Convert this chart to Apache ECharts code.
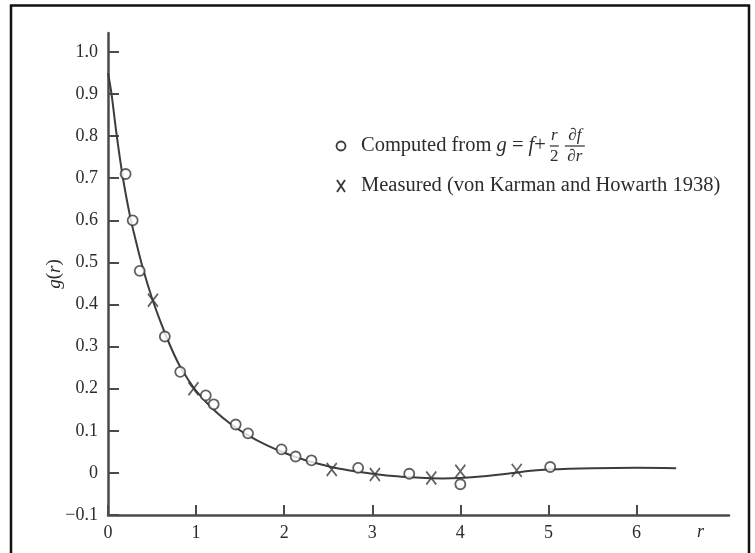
<!DOCTYPE html>
<html>
<head>
<meta charset="utf-8">
<title>g(r)</title>
<script src="https://cdn.jsdelivr.net/npm/echarts@6/dist/echarts.min.js"></script>
<style>
  html, body { margin: 0; padding: 0; background: #ffffff; }
  #chart { width: 755px; height: 553px; }
</style>
</head>
<body>
<div id="chart"></div>
<script>
// Smooth curve g(r)
const curveR = [0, 0.04, 0.1, 0.17, 0.25, 0.3, 0.4, 0.5, 0.6, 0.7, 0.8, 0.9, 1.0, 1.2, 1.4, 1.6, 1.8, 2.0, 2.2, 2.4, 2.6, 2.8, 3.0, 3.2, 3.4, 3.6, 3.8, 4.0, 4.2, 4.4, 4.6, 4.8, 5.0, 5.5, 6.0, 6.45];
const curveG = [0.95, 0.9, 0.8, 0.7, 0.61, 0.565, 0.483, 0.415, 0.357, 0.305, 0.26, 0.225, 0.195, 0.15, 0.115, 0.088, 0.066, 0.048, 0.033, 0.021, 0.011, 0.004, -0.002, -0.007, -0.010, -0.012, -0.013, -0.012, -0.009, -0.005, 0.000, 0.005, 0.008, 0.011, 0.012, 0.011];

// Computed from g = f + (r/2) df/dr
const computedR = [0.20, 0.28, 0.36, 0.645, 0.82, 1.11, 1.20, 1.45, 1.59, 1.97, 2.13, 2.31, 2.84, 3.42, 4.00, 5.02];
const computedG = [0.71, 0.60, 0.48, 0.324, 0.24, 0.184, 0.163, 0.115, 0.094, 0.056, 0.039, 0.030, 0.012, -0.002, -0.027, 0.014];

// Measured (von Karman and Howarth 1938)
const measuredR = [0.51, 0.97, 2.54, 3.03, 3.67, 4.00, 4.64];
const measuredG = [0.41, 0.20, 0.008, -0.004, -0.012, 0.004, 0.006];

// Axis ticks
const xTickValues = [0, 1, 2, 3, 4, 5, 6];
const xTickLabels = ['0', '1', '2', '3', '4', '5', '6'];
const yTickValues = [-0.1, 0, 0.1, 0.2, 0.3, 0.4, 0.5, 0.6, 0.7, 0.8, 0.9, 1.0];
const yTickLabels = ['\u22120.1', '0', '0.1', '0.2', '0.3', '0.4', '0.5', '0.6', '0.7', '0.8', '0.9', '1.0'];

const legendComputed = 'Computed from ';
const legendMeasured = 'Measured (von Karman and Howarth 1938)';

const INK = '#2c2c2c';
const AXIS = '#4a4a4a';
const SERIF = '"Liberation Serif", "Times New Roman", serif';

function pairs(xs, ys) { return xs.map((x, i) => [x, ys[i]]); }
function labelFor(values, labels) {
  return v => {
    const i = values.findIndex(t => Math.abs(t - v) < 1e-9);
    return i < 0 ? '' : labels[i];
  };
}

// measure legend text to place the fraction terms after it
const ctx = document.createElement('canvas').getContext('2d');
function textWidth(str, font) { ctx.font = font; return ctx.measureText(str).width; }

const legFont = 20.5;
const fracFont = 17;
const row1 = 146, row2 = 186, legX = 361;
const w1 = textWidth(legendComputed, `${legFont}px ${SERIF}`);
const wg = textWidth('g', `italic ${legFont}px ${SERIF}`);
const weq = textWidth(' = ', `${legFont}px ${SERIF}`);
const wf = textWidth('f', `italic ${legFont}px ${SERIF}`);
const wplus = textWidth('+', `${legFont}px ${SERIF}`);
const fr1 = legX + w1 + wg + weq + wf + wplus + 4;
const fr2 = fr1 + 15;

const chart = echarts.init(document.getElementById('chart'), null, { renderer: 'canvas' });

chart.setOption({
  animation: false,
  backgroundColor: '#ffffff',
  grid: { left: 108, right: 26, top: 33, bottom: 38, containLabel: false },
  xAxis: {
    type: 'value',
    min: 0,
    max: 7.05,
    splitLine: { show: false },
    axisLine: { show: true, onZero: false, lineStyle: { color: AXIS, width: 2.5 } },
    axisTick: { show: true, inside: true, length: 10, customValues: xTickValues, lineStyle: { color: AXIS, width: 2 } },
    axisLabel: {
      customValues: xTickValues,
      formatter: labelFor(xTickValues, xTickLabels),
      margin: 9, color: INK, fontFamily: SERIF, fontSize: 18
    }
  },
  yAxis: {
    type: 'value',
    min: -0.1,
    max: 1.045,
    name: '{i|g}(' + '{i|r})',
    nameLocation: 'middle',
    nameRotate: 90,
    nameGap: 44,
    nameMoveOverlap: false,
    nameTextStyle: {
      color: INK, fontFamily: SERIF, fontSize: 19,
      rich: { i: { fontStyle: 'italic', fontFamily: SERIF, fontSize: 19, color: INK } }
    },
    splitLine: { show: false },
    axisLine: { show: true, onZero: false, lineStyle: { color: AXIS, width: 2.5 } },
    axisTick: { show: true, inside: true, length: 11, customValues: yTickValues, lineStyle: { color: AXIS, width: 2 } },
    axisLabel: {
      customValues: yTickValues,
      formatter: labelFor(yTickValues, yTickLabels),
      margin: 10, color: INK, fontFamily: SERIF, fontSize: 18
    }
  },
  series: [
    {
      name: 'g(r)',
      type: 'line',
      smooth: 0.35,
      showSymbol: false,
      data: pairs(curveR, curveG),
      lineStyle: { color: '#3c3c3c', width: 2 },
      z: 2
    },
    {
      name: 'Computed',
      type: 'scatter',
      symbol: 'circle',
      symbolSize: 10,
      data: pairs(computedR, computedG),
      itemStyle: { color: '#ffffff', borderColor: '#383838', borderWidth: 1.8 },
      z: 3
    },
    {
      name: 'Measured',
      type: 'scatter',
      symbol: 'path://M0,0L10,12M10,0L0,12',
      symbolSize: [10, 13],
      data: pairs(measuredR, measuredG),
      itemStyle: { color: 'rgba(0,0,0,0)', borderColor: '#383838', borderWidth: 1.8 },
      z: 3
    }
  ],
  graphic: [
    // page frame
    {
      type: 'polyline', silent: true,
      shape: { points: [[11, 560], [11, 5.5], [749, 5.5], [749, 560]] },
      style: { stroke: '#111', lineWidth: 2.5, fill: null }
    },
    // axis name r
    {
      type: 'text', left: 697, top: 523,
      style: { text: 'r', font: `italic 18px ${SERIF}`, fill: INK }
    },
    // legend: computed
    {
      type: 'circle', shape: { cx: 341, cy: row1, r: 4.5 },
      style: { fill: '#fff', stroke: '#383838', lineWidth: 1.8 }
    },
    {
      type: 'text', x: legX, y: row1,
      style: {
        text: legendComputed + '{i|g} = {i|f}+',
        font: `${legFont}px ${SERIF}`, fill: INK, verticalAlign: 'middle',
        rich: { i: { font: `italic ${legFont}px ${SERIF}`, fill: INK } }
      }
    },
    { type: 'text', x: fr1 + 4.5, y: row1 - 2, style: { text: 'r', font: `italic ${fracFont}px ${SERIF}`, fill: INK, align: 'center', verticalAlign: 'bottom' } },
    { type: 'line', shape: { x1: fr1, y1: row1, x2: fr1 + 9, y2: row1 }, style: { stroke: INK, lineWidth: 1.2 } },
    { type: 'text', x: fr1 + 4.5, y: row1 + 2, style: { text: '2', font: `${fracFont}px ${SERIF}`, fill: INK, align: 'center', verticalAlign: 'top' } },
    { type: 'text', x: fr2 + 10, y: row1 - 2, style: { text: '\u2202{i|f}', font: `${fracFont}px ${SERIF}`, fill: INK, align: 'center', verticalAlign: 'bottom', rich: { i: { font: `italic ${fracFont}px ${SERIF}`, fill: INK } } } },
    { type: 'line', shape: { x1: fr2, y1: row1, x2: fr2 + 20, y2: row1 }, style: { stroke: INK, lineWidth: 1.2 } },
    { type: 'text', x: fr2 + 10, y: row1 + 2, style: { text: '\u2202{i|r}', font: `${fracFont}px ${SERIF}`, fill: INK, align: 'center', verticalAlign: 'top', rich: { i: { font: `italic ${fracFont}px ${SERIF}`, fill: INK } } } },
    // legend: measured
    {
      type: 'polyline', shape: { points: [[337, row2 - 6], [345, row2 + 6]] },
      style: { stroke: '#383838', lineWidth: 1.8, fill: null }
    },
    {
      type: 'polyline', shape: { points: [[345, row2 - 6], [337, row2 + 6]] },
      style: { stroke: '#383838', lineWidth: 1.8, fill: null }
    },
    {
      type: 'text', x: legX, y: row2,
      style: { text: legendMeasured, font: `${legFont}px ${SERIF}`, fill: INK, verticalAlign: 'middle' }
    }
  ]
});
</script>
</body>
</html>
